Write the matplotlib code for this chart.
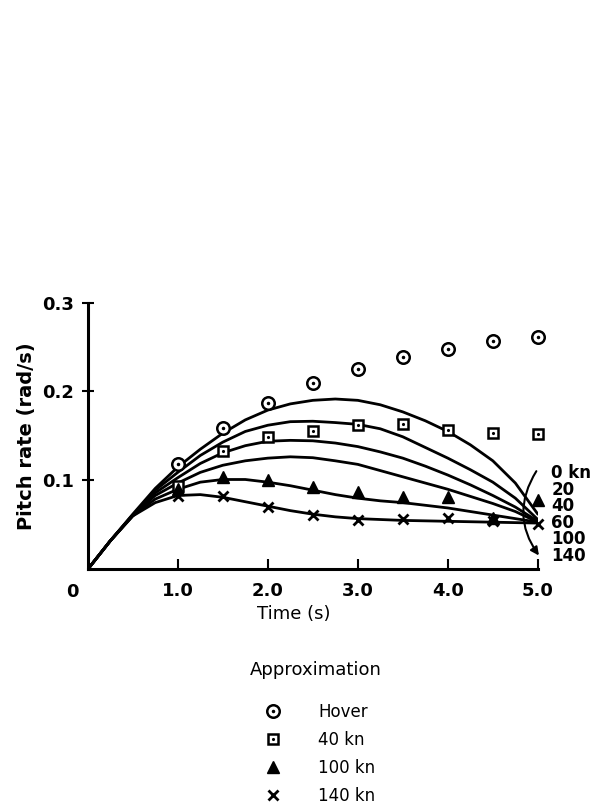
import matplotlib.pyplot as plt
from matplotlib.lines import Line2D
from matplotlib.patches import FancyArrowPatch

# model curves, read every 0.25 s
t_curve = [0.0, 0.25, 0.5, 0.75, 1.0, 1.25, 1.5, 1.75, 2.0, 2.25, 2.5,
           2.75, 3.0, 3.25, 3.5, 3.75, 4.0, 4.25, 4.5, 4.75, 5.0]
q_0kn = [0.0, 0.032, 0.062, 0.091, 0.115, 0.135, 0.153, 0.168, 0.179, 0.186, 0.190,
         0.1915, 0.190, 0.185, 0.177, 0.167, 0.155, 0.140, 0.122, 0.097, 0.062]
q_20kn = [0.0, 0.032, 0.061, 0.089, 0.109, 0.128, 0.143, 0.155, 0.162, 0.166, 0.1665,
          0.165, 0.163, 0.158, 0.149, 0.137, 0.125, 0.112, 0.098, 0.080, 0.056]
q_40kn = [0.0, 0.032, 0.061, 0.086, 0.103, 0.119, 0.131, 0.139, 0.144, 0.145, 0.1445,
          0.142, 0.138, 0.132, 0.125, 0.116, 0.106, 0.095, 0.083, 0.070, 0.054]
q_60kn = [0.0, 0.032, 0.061, 0.083, 0.097, 0.109, 0.117, 0.122, 0.125, 0.1265, 0.1255,
          0.122, 0.118, 0.111, 0.104, 0.097, 0.090, 0.082, 0.074, 0.065, 0.053]
q_100kn = [0.0, 0.032, 0.060, 0.079, 0.090, 0.098, 0.101, 0.101, 0.098, 0.094, 0.089,
           0.084, 0.080, 0.077, 0.075, 0.072, 0.069, 0.065, 0.061, 0.057, 0.053]
q_140kn = [0.0, 0.032, 0.060, 0.075, 0.083, 0.084, 0.081, 0.076, 0.071, 0.066, 0.062,
           0.059, 0.057, 0.056, 0.055, 0.0545, 0.054, 0.0535, 0.053, 0.0525, 0.052]
curves = [q_0kn, q_20kn, q_40kn, q_60kn, q_100kn, q_140kn]

# approximation points, every 0.5 s
t_pts = [1.0, 1.5, 2.0, 2.5, 3.0, 3.5, 4.0, 4.5, 5.0]
hover = [0.118, 0.159, 0.187, 0.209, 0.2255, 0.239, 0.248, 0.2565, 0.261]
kn40 = [0.094, 0.1326, 0.1487, 0.156, 0.162, 0.163, 0.157, 0.1536, 0.1525]
kn100 = [0.090, 0.1037, 0.100, 0.0925, 0.0869, 0.0813, 0.081, 0.058, 0.0775]
kn140 = [0.083, 0.082, 0.070, 0.0607, 0.0558, 0.057, 0.058, 0.054, 0.0513]

speed_labels = ["0 kn", "20", "40", "60", "100", "140"]
legend_labels = ["Hover", "40 kn", "100 kn", "140 kn"]

fig = plt.figure(figsize=(5.93, 8.11), dpi=100)
ax = fig.add_axes([0.148, 0.298, 0.759, 0.329])

for q in curves:
    ax.plot(t_curve, q, color="black", lw=2.0, solid_capstyle="round",
            solid_joinstyle="round")

ms = dict(clip_on=False, zorder=4, ls="none")
ax.plot(t_pts, hover, marker="o", ms=9, mfc="white", mec="black", mew=1.8, **ms)
ax.plot(t_pts, hover, marker=".", ms=3, color="black", **ms)
ax.plot(t_pts, kn40, marker="s", ms=7, mfc="white", mec="black", mew=1.8, **ms)
ax.plot(t_pts, kn40, marker=".", ms=2.5, color="black", **ms)
ax.plot(t_pts, kn100, marker="^", ms=8, color="black", **ms)
ax.plot(t_pts, kn140, marker="x", ms=7, mew=2.0, color="black", **ms)

ax.set_xlim(0, 5)
ax.set_ylim(0, 0.3)
ax.spines["top"].set_visible(False)
ax.spines["right"].set_visible(False)
ax.spines["left"].set_linewidth(2.2)
ax.spines["bottom"].set_linewidth(2.2)

ax.set_xticks([1, 2, 3, 4, 5])
ax.set_xticklabels(["1.0", "2.0", "3.0", "4.0", "5.0"])
ax.set_yticks([0.1, 0.2, 0.3])
ax.set_yticklabels(["0.1", "0.2", "0.3"])
ax.tick_params(axis="x", direction="in", length=7, width=1.5, pad=9, labelsize=13)
ax.tick_params(axis="y", direction="inout", length=8, width=1.5, pad=6, labelsize=13)
for lab in ax.get_xticklabels() + ax.get_yticklabels():
    lab.set_fontweight("bold")
ax.annotate("0", xy=(0, 0), xytext=(-11, -16), textcoords="offset points",
            ha="center", va="center", fontsize=13, fontweight="bold")

ax.set_ylabel("Pitch rate (rad/s)", fontsize=14, fontweight="bold", labelpad=4)
ax.set_xlabel("Time (s)", fontsize=13, labelpad=4)
ax.xaxis.set_label_coords(0.458, -0.135)

# speed labels at the right end
for i, s in enumerate(speed_labels):
    ax.text(5.15, 0.108 - i * 0.0185, s, fontsize=12, fontweight="bold",
            ha="left", va="center", clip_on=False)

arrow = FancyArrowPatch((5.0, 0.113), (5.03, 0.013), connectionstyle="arc3,rad=0.35",
                        arrowstyle="-|>", mutation_scale=12, lw=1.5, color="black",
                        clip_on=False)
ax.add_patch(arrow)

fig.text(0.533, 1 - 670 / 811, "Approximation", ha="center", va="center", fontsize=13)

handles = [
    (Line2D([], [], ls="none", marker="o", ms=9, mfc="white", mec="black", mew=1.8),
     Line2D([], [], ls="none", marker=".", ms=3, color="black")),
    (Line2D([], [], ls="none", marker="s", ms=7, mfc="white", mec="black", mew=1.8),
     Line2D([], [], ls="none", marker=".", ms=2.5, color="black")),
    Line2D([], [], ls="none", marker="^", ms=8, color="black"),
    Line2D([], [], ls="none", marker="x", ms=7, mew=2.0, color="black"),
]
leg = fig.legend(handles, legend_labels, loc="upper center",
                 bbox_to_anchor=(0.54, 1 - 691 / 811), frameon=False, fontsize=12,
                 handlelength=1.0, handletextpad=2.2, labelspacing=0.6,
                 borderpad=0.2)

fig.savefig("out.png", dpi=100)
